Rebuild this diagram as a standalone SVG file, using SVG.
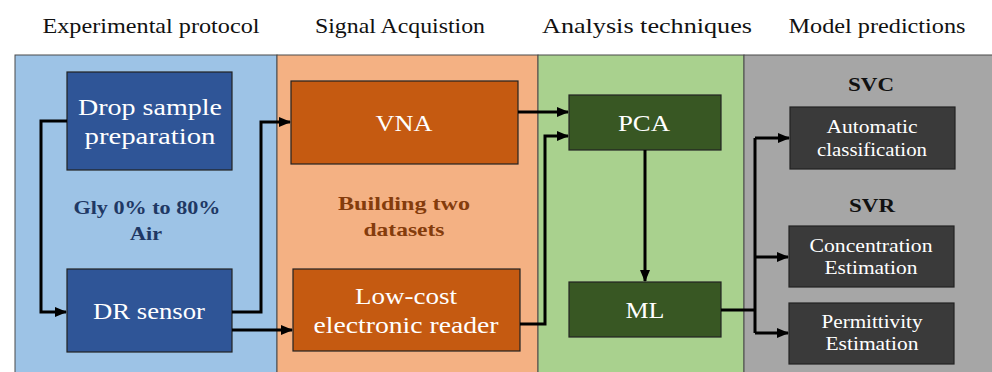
<svg xmlns="http://www.w3.org/2000/svg" width="992" height="372" viewBox="0 0 992 372" font-family="'Liberation Serif', 'Times New Roman', 'DejaVu Serif', serif">
  <style>
    text { text-anchor: middle; }
    .title { font-size: 21px; fill: #111; }
    .panel { stroke: #4a4a4a; stroke-width: 1; }
    .box { stroke: #222; stroke-width: 1.2; }
    .lbl { fill: #fff; font-size: 24px; }
    .lbl-s { fill: #fff; font-size: 18px; }
    .note { font-size: 19px; font-weight: bold; }
    .wire { fill: none; stroke: #000; stroke-width: 3; stroke-linejoin: miter; }
  </style>
  <defs>
    <marker id="arrow" markerUnits="userSpaceOnUse" markerWidth="12" markerHeight="12" viewBox="0 0 12 12" refX="11" refY="6" orient="auto">
      <path d="M0,1 L12,6 L0,11 Z" fill="#000"/>
    </marker>
  </defs>

  <rect width="992" height="372" fill="#fff"/>

  <!-- column titles -->
  <g id="titles" font-family="'Liberation Serif', serif">
    <text class="title" x="151" y="33" textLength="217" lengthAdjust="spacingAndGlyphs">Experimental protocol</text>
    <text class="title" x="400" y="33" textLength="170" lengthAdjust="spacingAndGlyphs">Signal Acquistion</text>
    <text class="title" x="647" y="33" textLength="210" lengthAdjust="spacingAndGlyphs">Analysis techniques</text>
    <text class="title" x="877" y="33" textLength="177" lengthAdjust="spacingAndGlyphs">Model predictions</text>
  </g>

  <!-- stage panels -->
  <g id="panels">
    <rect class="panel" x="15" y="55" width="262" height="320" fill="#9DC3E6"/>
    <rect class="panel" x="277" y="55" width="261" height="320" fill="#F4B183"/>
    <rect class="panel" x="538" y="55" width="206" height="320" fill="#A9D18E"/>
    <rect class="panel" x="744" y="55" width="252" height="320" fill="#A6A6A6"/>
  </g>

  <!-- panel notes -->
  <g id="notes" font-family="'Liberation Serif', serif">
    <text class="note" fill="#1F3864" x="147" y="214" textLength="147" lengthAdjust="spacingAndGlyphs">Gly 0% to 80%</text>
    <text class="note" fill="#1F3864" x="146" y="240" textLength="32" lengthAdjust="spacingAndGlyphs">Air</text>
    <text class="note" fill="#843C0C" x="404" y="210" textLength="132" lengthAdjust="spacingAndGlyphs">Building two</text>
    <text class="note" fill="#843C0C" x="404" y="236" textLength="81" lengthAdjust="spacingAndGlyphs">datasets</text>
    <text class="note" fill="#111" x="871" y="91" textLength="46" lengthAdjust="spacingAndGlyphs">SVC</text>
    <text class="note" fill="#111" x="872" y="212" textLength="46" lengthAdjust="spacingAndGlyphs">SVR</text>
  </g>

  <!-- nodes -->
  <g id="drop-sample" font-family="'Liberation Serif', serif">
    <rect class="box" x="67" y="72" width="165" height="98" fill="#2F5597"/>
    <text class="lbl" x="150" y="115" textLength="144" lengthAdjust="spacingAndGlyphs">Drop sample</text>
    <text class="lbl" x="150" y="144" textLength="131" lengthAdjust="spacingAndGlyphs">preparation</text>
  </g>
  <g id="dr-sensor" font-family="'Liberation Serif', serif">
    <rect class="box" x="67" y="269" width="165" height="83" fill="#2F5597"/>
    <text class="lbl" x="149" y="319" textLength="112" lengthAdjust="spacingAndGlyphs">DR sensor</text>
  </g>
  <g id="vna" font-family="'Liberation Serif', serif">
    <rect class="box" x="291" y="81" width="227" height="83" fill="#C55A11"/>
    <text class="lbl" x="404" y="131" textLength="57" lengthAdjust="spacingAndGlyphs">VNA</text>
  </g>
  <g id="low-cost-reader" font-family="'Liberation Serif', serif">
    <rect class="box" x="293" y="269" width="227" height="82" fill="#C55A11"/>
    <text class="lbl" x="406" y="304" textLength="102" lengthAdjust="spacingAndGlyphs">Low-cost</text>
    <text class="lbl" x="406" y="333" textLength="185" lengthAdjust="spacingAndGlyphs">electronic reader</text>
  </g>
  <g id="pca" font-family="'Liberation Serif', serif">
    <rect class="box" x="569" y="95" width="152" height="55" fill="#385723"/>
    <text class="lbl" x="644" y="131" font-size="22" textLength="52" lengthAdjust="spacingAndGlyphs">PCA</text>
  </g>
  <g id="ml" font-family="'Liberation Serif', serif">
    <rect class="box" x="569" y="282" width="152" height="55" fill="#385723"/>
    <text class="lbl" x="645" y="318" textLength="39" lengthAdjust="spacingAndGlyphs">ML</text>
  </g>
  <g id="automatic-classification" font-family="'Liberation Serif', serif">
    <rect class="box" x="790" y="107" width="165" height="62" fill="#3A3A3A"/>
    <text class="lbl-s" x="872" y="133" textLength="91" lengthAdjust="spacingAndGlyphs">Automatic</text>
    <text class="lbl-s" x="872" y="156" textLength="110" lengthAdjust="spacingAndGlyphs">classification</text>
  </g>
  <g id="concentration-estimation" font-family="'Liberation Serif', serif">
    <rect class="box" x="789" y="226" width="165" height="61" fill="#3A3A3A"/>
    <text class="lbl-s" x="871" y="252" textLength="123" lengthAdjust="spacingAndGlyphs">Concentration</text>
    <text class="lbl-s" x="871" y="274" textLength="93" lengthAdjust="spacingAndGlyphs">Estimation</text>
  </g>
  <g id="permittivity-estimation" font-family="'Liberation Serif', serif">
    <rect class="box" x="789" y="303" width="165" height="61" fill="#3A3A3A"/>
    <text class="lbl-s" x="872" y="328" textLength="101" lengthAdjust="spacingAndGlyphs">Permittivity</text>
    <text class="lbl-s" x="872" y="350" textLength="93" lengthAdjust="spacingAndGlyphs">Estimation</text>
  </g>

  <!-- connectors -->
  <g id="connectors">
    <path class="wire" d="M67,121 H41 V312 H66" marker-end="url(#arrow)"/>
    <path class="wire" d="M232,312 H261 V122 H290" marker-end="url(#arrow)"/>
    <path class="wire" d="M232,330 H292" marker-end="url(#arrow)"/>
    <path class="wire" d="M518,112 H568" marker-end="url(#arrow)"/>
    <path class="wire" d="M520,324 H545 V136 H568" marker-end="url(#arrow)"/>
    <path class="wire" d="M645,150 V281" marker-end="url(#arrow)"/>
    <path class="wire" d="M721,310 H755"/>
    <path class="wire" d="M755,138 V333"/>
    <path class="wire" d="M755,138 H789" marker-end="url(#arrow)"/>
    <path class="wire" d="M755,257 H788" marker-end="url(#arrow)"/>
    <path class="wire" d="M755,333 H788" marker-end="url(#arrow)"/>
  </g>
</svg>
